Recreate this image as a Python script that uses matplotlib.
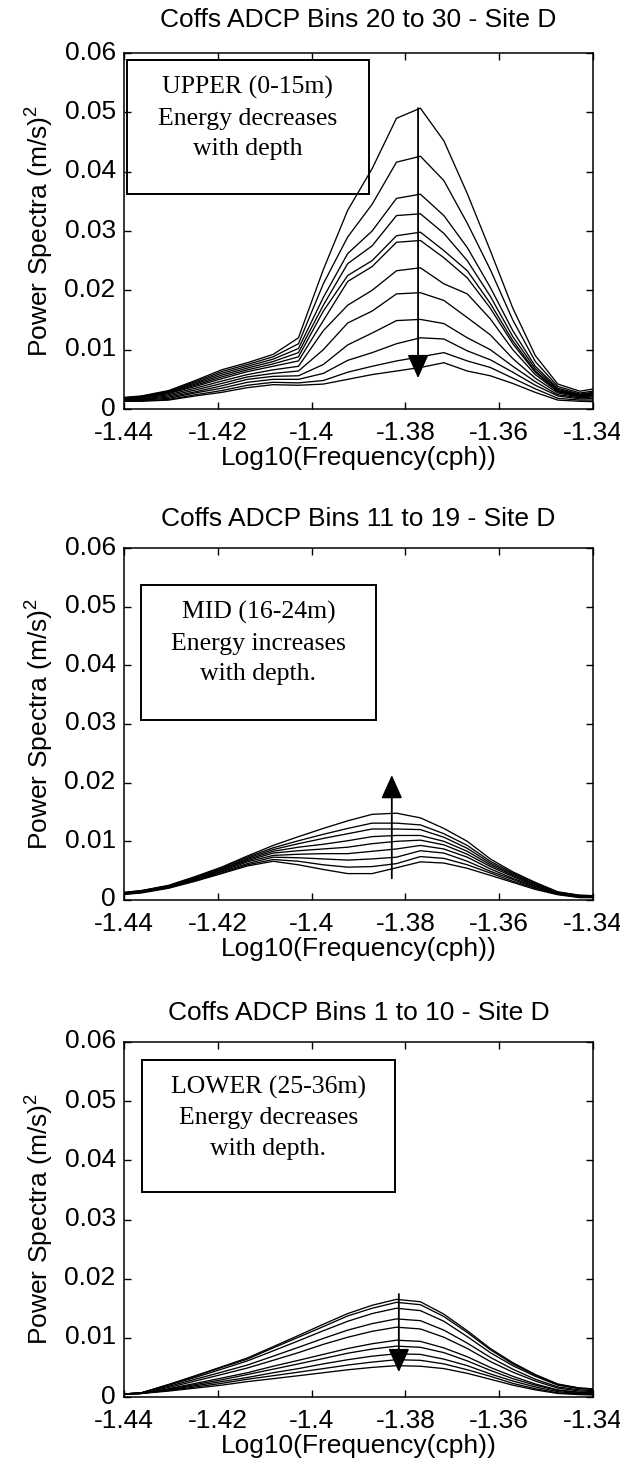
import matplotlib
matplotlib.use("Agg")
import matplotlib.pyplot as plt
import matplotlib.transforms as mtransforms

plt.rcParams['font.family'] = ['Liberation Sans', 'DejaVu Sans']
plt.rcParams['mathtext.fontset'] = 'custom'
plt.rcParams['mathtext.rm'] = 'Liberation Sans'
plt.rcParams['mathtext.it'] = 'Liberation Sans'
plt.rcParams['axes.unicode_minus'] = False

# ---------------- data ----------------
log_freq = [-1.4421, -1.4363, -1.4305, -1.4248, -1.4192, -1.4137, -1.4082,
            -1.4028, -1.3975, -1.3923, -1.3871, -1.3819, -1.3768, -1.3718,
            -1.3668, -1.3619, -1.3571, -1.3523, -1.3475, -1.3428, -1.3382]

upper_spectra = [
    [.0018, .0022, .0031, .0048, .0066, .0078, .0092, .0120, .0235, .0335, .0405, .0490, .0507, .0452, .0363, .0267, .0170, .0090, .0042, .0030, .0036],
    [.0018, .0021, .0030, .0046, .0063, .0075, .0088, .0110, .0211, .0290, .0345, .0416, .0426, .0385, .0313, .0235, .0150, .0080, .0038, .0027, .0032],
    [.0017, .0021, .0029, .0044, .0060, .0072, .0084, .0102, .0188, .0262, .0300, .0355, .0362, .0326, .0272, .0205, .0132, .0072, .0035, .0025, .0030],
    [.0017, .0020, .0028, .0042, .0057, .0069, .0080, .0095, .0175, .0245, .0275, .0326, .0329, .0296, .0250, .0190, .0122, .0068, .0033, .0024, .0029],
    [.0016, .0019, .0027, .0040, .0054, .0066, .0076, .0088, .0165, .0225, .0250, .0292, .0298, .0267, .0233, .0178, .0115, .0064, .0031, .0023, .0027],
    [.0016, .0019, .0026, .0038, .0051, .0063, .0072, .0081, .0149, .0215, .0240, .0281, .0284, .0255, .0221, .0170, .0110, .0062, .0030, .0022, .0026],
    [.0015, .0018, .0024, .0035, .0047, .0058, .0066, .0072, .0132, .0175, .0200, .0233, .0238, .0211, .0194, .0152, .0100, .0058, .0029, .0021, .0025],
    [.0015, .0017, .0022, .0032, .0043, .0054, .0060, .0064, .0100, .0145, .0165, .0194, .0196, .0183, .0154, .0125, .0085, .0052, .0027, .0020, .0023],
    [.0014, .0016, .0020, .0029, .0039, .0050, .0055, .0056, .0075, .0108, .0128, .0149, .0151, .0144, .0120, .0100, .0072, .0046, .0024, .0019, .0021],
    [.0014, .0015, .0018, .0027, .0035, .0045, .0050, .0050, .0060, .0082, .0095, .0110, .0120, .0118, .0098, .0083, .0062, .0040, .0022, .0017, .0018],
    [.0013, .0014, .0016, .0024, .0031, .0040, .0045, .0044, .0048, .0062, .0072, .0081, .0088, .0095, .0081, .0070, .0052, .0034, .0018, .0015, .0015],
    [.0013, .0013, .0015, .0022, .0028, .0036, .0041, .0040, .0042, .0050, .0058, .0064, .0070, .0078, .0064, .0056, .0043, .0028, .0015, .0013, .0012],
]

mid_spectra = [
    [.0011, .0016, .0025, .0040, .0056, .0075, .0093, .0108, .0122, .0135, .0146, .0148, .0140, .0122, .0100, .0070, .0048, .0030, .0014, .0008, .0007],
    [.0011, .0016, .0024, .0039, .0055, .0073, .0089, .0101, .0112, .0122, .0131, .0131, .0128, .0113, .0093, .0066, .0046, .0029, .0013, .0008, .0007],
    [.0010, .0015, .0024, .0038, .0053, .0071, .0086, .0096, .0105, .0113, .0121, .0121, .0120, .0107, .0088, .0063, .0044, .0027, .0013, .0007, .0006],
    [.0010, .0015, .0023, .0037, .0052, .0069, .0083, .0090, .0095, .0101, .0108, .0110, .0110, .0100, .0083, .0060, .0042, .0026, .0012, .0007, .0006],
    [.0010, .0014, .0023, .0036, .0051, .0067, .0080, .0084, .0087, .0090, .0096, .0100, .0102, .0094, .0078, .0057, .0040, .0024, .0012, .0006, .0006],
    [.0009, .0014, .0022, .0035, .0049, .0065, .0076, .0078, .0079, .0079, .0083, .0087, .0093, .0087, .0073, .0053, .0037, .0023, .0011, .0006, .0005],
    [.0009, .0013, .0021, .0034, .0048, .0062, .0073, .0072, .0070, .0068, .0070, .0073, .0084, .0080, .0066, .0049, .0035, .0021, .0010, .0005, .0005],
    [.0008, .0013, .0021, .0033, .0046, .0060, .0069, .0066, .0060, .0056, .0057, .0062, .0074, .0071, .0060, .0046, .0032, .0020, .0010, .0005, .0004],
    [.0008, .0012, .0020, .0032, .0045, .0058, .0066, .0060, .0052, .0045, .0045, .0055, .0065, .0063, .0054, .0042, .0030, .0018, .0009, .0004, .0004],
]

lower_spectra = [
    [.0004, .0007, .0021, .0036, .0051, .0066, .0085, .0104, .0123, .0141, .0155, .0165, .0161, .0140, .0112, .0082, .0058, .0038, .0022, .0015, .0013],
    [.0004, .0007, .0021, .0035, .0050, .0064, .0083, .0101, .0119, .0137, .0150, .0160, .0156, .0136, .0109, .0080, .0056, .0037, .0021, .0015, .0013],
    [.0004, .0007, .0020, .0033, .0047, .0061, .0078, .0095, .0112, .0128, .0141, .0150, .0146, .0128, .0102, .0075, .0053, .0035, .0020, .0014, .0012],
    [.0004, .0007, .0018, .0030, .0042, .0054, .0069, .0084, .0099, .0113, .0124, .0132, .0129, .0113, .0091, .0067, .0047, .0030, .0017, .0012, .0010],
    [.0004, .0007, .0016, .0027, .0038, .0049, .0062, .0075, .0089, .0101, .0111, .0118, .0115, .0101, .0082, .0060, .0042, .0027, .0015, .0010, .0009],
    [.0004, .0006, .0014, .0023, .0032, .0041, .0052, .0062, .0072, .0082, .0090, .0096, .0094, .0083, .0068, .0050, .0035, .0022, .0012, .0008, .0007],
    [.0004, .0006, .0013, .0021, .0029, .0038, .0047, .0056, .0065, .0074, .0081, .0086, .0084, .0075, .0061, .0045, .0031, .0020, .0011, .0007, .0006],
    [.0004, .0006, .0012, .0019, .0026, .0033, .0041, .0048, .0056, .0063, .0069, .0073, .0072, .0064, .0053, .0039, .0027, .0017, .0009, .0006, .0005],
    [.0004, .0006, .0011, .0017, .0023, .0030, .0036, .0042, .0048, .0054, .0059, .0063, .0062, .0056, .0046, .0035, .0023, .0014, .0007, .0005, .0004],
    [.0004, .0006, .0010, .0015, .0020, .0026, .0031, .0036, .0041, .0046, .0050, .0053, .0052, .0048, .0040, .0030, .0020, .0012, .0006, .0004, .0003],
]

titles = ["Coffs ADCP Bins 20 to 30 - Site D",
          "Coffs ADCP Bins 11 to 19 - Site D",
          "Coffs ADCP Bins 1 to 10 - Site D"]
notes = ["UPPER (0-15m)\nEnergy decreases\nwith depth",
         "MID (16-24m)\nEnergy increases\nwith depth.",
         "LOWER (25-36m)\nEnergy decreases\nwith depth."]
x_ticks = [-1.44, -1.42, -1.40, -1.38, -1.36, -1.34]
x_tick_labels = ["-1.44", "-1.42", "-1.4", "-1.38", "-1.36", "-1.34"]
y_ticks = [0, 0.01, 0.02, 0.03, 0.04, 0.05, 0.06]
y_tick_labels = ["0", "0.01", "0.02", "0.03", "0.04", "0.05", "0.06"]
x_label = "Log10(Frequency(cph))"
y_label = "Power Spectra (m/s)$^2$"

# --------------- layout ----------------
W, H = 620, 1477
fig = plt.figure(figsize=(W / 100, H / 100), dpi=100)

def rect(top_px, bottom_px, left_px=124, right_px=593):
    return [left_px / W, 1 - bottom_px / H, (right_px - left_px) / W, (bottom_px - top_px) / H]

panels = [
    dict(rect=rect(53, 409), data=upper_spectra, title_pad=19,
         box=(-1.4394, -1.3878, 0.0363, 0.0588),
         arrow=(-1.3773, 0.0507, 0.0052)),
    dict(rect=rect(548, 900), data=mid_spectra, title_pad=16,
         box=(-1.4364, -1.3863, 0.0307, 0.0537),
         arrow=(-1.3829, 0.0037, 0.0213)),
    dict(rect=rect(1042, 1397), data=lower_spectra, title_pad=16,
         box=(-1.4362, -1.3822, 0.0346, 0.0570),
         arrow=(-1.3814, 0.0174, 0.0042)),
]

FS = 19
lift = mtransforms.ScaledTranslation(0, 3 / 100, fig.dpi_scale_trans)
for i, p in enumerate(panels):
    ax = fig.add_axes(p['rect'])
    for curve in p['data']:
        ax.plot(log_freq, curve, color='black', lw=0.95)
    ax.set_xlim(-1.44, -1.34)
    ax.set_ylim(0, 0.06)
    ax.set_xticks(x_ticks)
    ax.set_xticklabels(x_tick_labels)
    ax.set_yticks(y_ticks)
    ax.set_yticklabels(y_tick_labels)
    ax.tick_params(direction='in', top=True, right=True, length=5, width=1,
                   labelsize=FS)
    ax.tick_params(axis='x', pad=8.5)
    ax.tick_params(axis='y', pad=6)
    for lab in ax.get_yticklabels():
        lab.set_transform(lab.get_transform() + lift)
    for s in ax.spines.values():
        s.set_linewidth(1.1)
    ax.set_title(titles[i], fontsize=FS, pad=p['title_pad'])
    ax.set_xlabel(x_label, fontsize=FS, labelpad=1)
    ax.set_ylabel(y_label, fontsize=FS, labelpad=6)

    x0, x1, y0, y1 = p['box']
    ax.add_patch(plt.Rectangle((x0, y0), x1 - x0, y1 - y0, fill=False,
                               edgecolor='black', lw=1.4, zorder=5))
    ax.annotate(notes[i], xy=((x0 + x1) / 2, y1), xytext=(0, -11.5),
                textcoords='offset points', ha='center', va='top',
                fontsize=18.5, family='Liberation Serif', linespacing=1.5,
                zorder=6)

    ax_x, ya, yb = p['arrow']
    ax.annotate('', xy=(ax_x, yb), xytext=(ax_x, ya),
                arrowprops=dict(arrowstyle='-|>,head_length=1.0,head_width=0.45',
                                mutation_scale=14.5, color='black', lw=1.3,
                                shrinkA=0, shrinkB=0), zorder=7)

fig.savefig("out.png", dpi=100)
